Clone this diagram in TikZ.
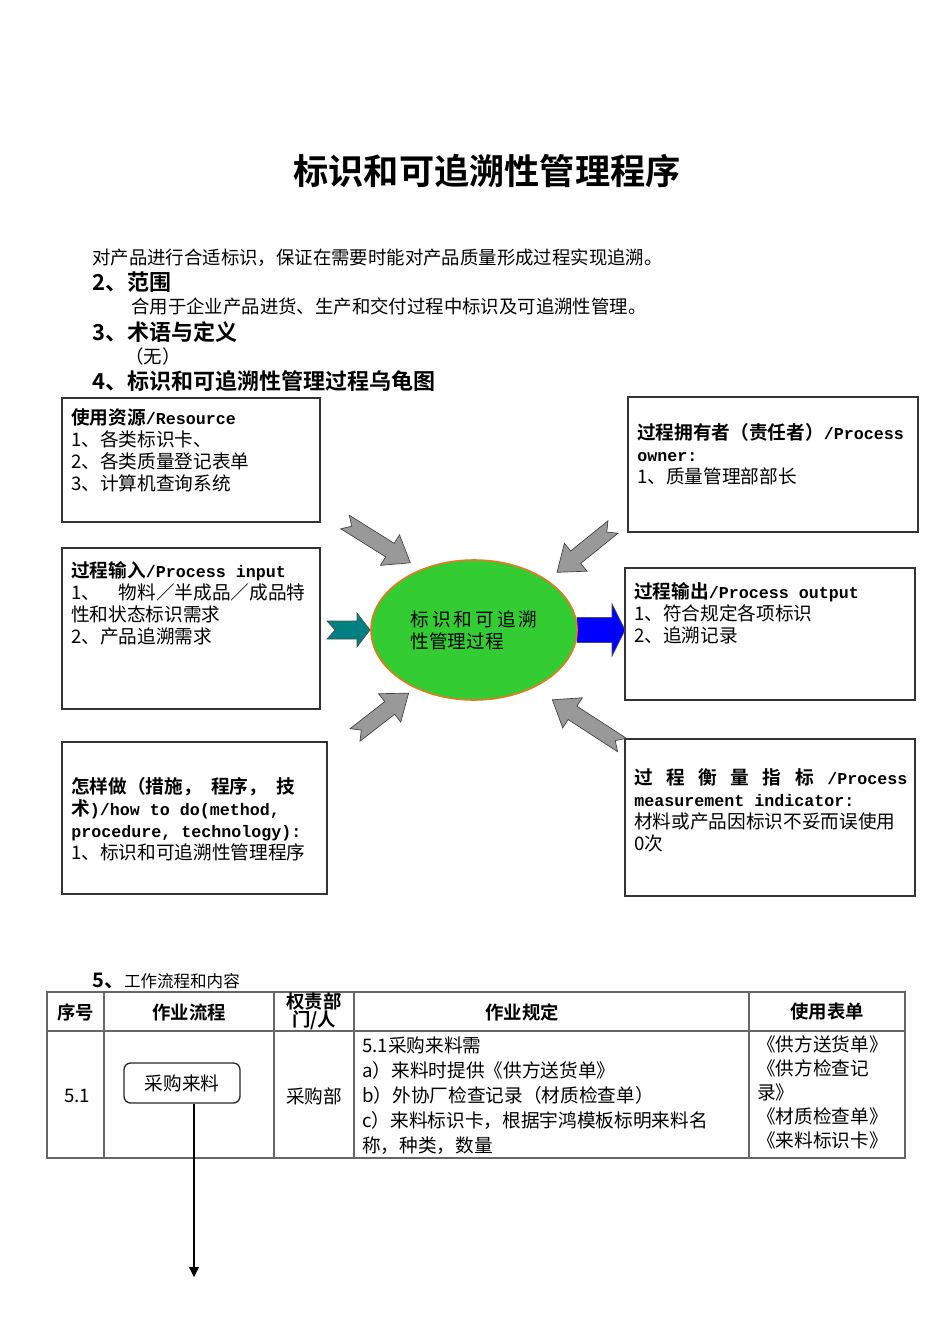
\documentclass[tikz,border=0pt]{standalone}
\usepackage{fontspec}
\setmainfont{Noto Sans CJK SC}[BoldFont={Noto Sans CJK SC Bold}]
\setmonofont{Liberation Mono}
\usepackage{tikz}
\usetikzlibrary{arrows.meta,positioning,shapes.geometric}
\definecolor{ovalgreen}{HTML}{33CC33}
\definecolor{ovalrim}{HTML}{E8781E}
\definecolor{inteal}{HTML}{008080}
\definecolor{outblue}{HTML}{0000FF}
\definecolor{sidegray}{HTML}{999999}
\newcommand{\enmono}[1]{{\ttfamily\bfseries\fontsize{12.5}{16.5}\selectfont #1}}

\begin{document}
\begin{tikzpicture}[x=0.75pt,y=-0.75pt,
    box/.style={draw=black!80,line width=1.1pt},
    boxtext/.style={anchor=north west,inner sep=0pt,align=left,
      font=\fontsize{14}{16.5}\selectfont},
    heading/.style={anchor=base west,inner sep=0pt,
      font=\bfseries\fontsize{16.5}{18}\selectfont},
    plain/.style={anchor=base west,inner sep=0pt,
      font=\fontsize{13.8}{16}\selectfont},
    grid/.style={draw=black!60,line width=1.1pt},
    cellhead/.style={inner sep=0pt,align=center,
      font=\bfseries\fontsize{13.8}{13.5}\selectfont},
    cell/.style={inner sep=0pt,font=\fontsize{14}{16}\selectfont},
  ]
    \useasboundingbox (0,0) rectangle (950,1344);

    % title and sections
    \node[anchor=base,inner sep=0pt,font=\bfseries\fontsize{26.4}{30}\selectfont]
      (title) at (487,185) {标识和可追溯性管理程序};
    \node[plain] (aim) at (92,265) {对产品进行合适标识，保证在需要时能对产品质量形成过程实现追溯。};
    \node[heading] (sec2) at (92,291) {2、范围};
    \node[plain] (scope) at (131,314) {合用于企业产品进货、生产和交付过程中标识及可追溯性管理。};
    \node[heading] (sec3) at (92,340) {3、术语与定义};
    \node[plain] (none) at (125,363) {（无）};
    \node[heading] (sec4) at (92,389) {4、标识和可追溯性管理过程乌龟图};

    % turtle boxes
    \draw[box] (62,398) rectangle (320,522);
    \node[boxtext] (res) at (71,408.5)
      {{\bfseries 使用资源}\enmono{/Resource}\\1、各类标识卡、\\2、各类质量登记表单\\3、计算机查询系统};
    \draw[box] (62,548) rectangle (320,709);
    \node[boxtext] (inp) at (71,561.5)
      {{\bfseries 过程输入}\enmono{/Process input}\\1、　物料／半成品／成品特\\性和状态标识需求\\2、产品追溯需求};
    \draw[box] (62,742) rectangle (327,894);
    \node[boxtext] (how) at (71,777.5)
      {\makebox[168pt][s]{\bfseries 怎样做（措施， 程序， 技}\\
       {\bfseries 术}\enmono{)/how to do(method,}\\
       \enmono{procedure, technology):}\\1、标识和可追溯性管理程序};
    \draw[box] (628,397) rectangle (918,532);
    \node[boxtext] (own) at (637,423.5)
      {{\bfseries 过程拥有者（责任者）}\enmono{/Process}\\\enmono{owner:}\\1、质量管理部部长};
    \draw[box] (625,568) rectangle (915,700);
    \node[boxtext] (outp) at (634,582.5)
      {{\bfseries 过程输出}\enmono{/Process output}\\1、符合规定各项标识\\2、追溯记录};
    \draw[box] (625,739) rectangle (915,896);
    \node[boxtext] (meas) at (634,768.5)
      {\makebox[204.75pt][s]{\bfseries 过 程 衡 量 指 标 \enmono{/Process}}\\
       \enmono{measurement indicator:}\\材料或产品因标识不妥而误使用\\0次};

    % block arrows round the oval
    \draw[draw=black!70,line width=0.5pt,fill=outblue]
      (577,617.5) -- (612,617.5) -- (612,604) -- (625,630) -- (612,656) -- (612,642.5) -- (577,642.5) -- cycle;
    \node[ellipse,draw=ovalrim,line width=1.2pt,fill=ovalgreen,
      minimum width=154.5pt,minimum height=105pt,align=left,
      font=\fontsize{14}{16.5}\selectfont] (core) at (474,630)
      {\makebox[95.25pt][s]{标 识 和 可 追 溯}\\性管理过程};
    \draw[draw=black!70,line width=0.5pt,fill=inteal]
      (327,621) -- (357,621) -- (357,613) -- (370,630) -- (357,647) -- (357,639) -- (327,639) -- (335,630) -- cycle;
    \foreach \tx/\ty/\ang/\len in {345/522/-32/77, 613/527/-141/72,
                                   355/735/38/68, 622/745/147/83} {
      \begin{scope}[shift={(\tx,\ty)},rotate=\ang]
        \draw[draw=black!75,line width=0.5pt,fill=sidegray]
          (0,-8) -- (\len-24,-8) -- (\len-24,-18) -- (\len,0) -- (\len-24,18)
          -- (\len-24,8) -- (0,8) -- (8,0) -- cycle;
      \end{scope}
    }

    % work flow table
    \node[anchor=base west,inner sep=0pt] (sec5) at (92,987)
      {{\bfseries\fontsize{15}{18}\selectfont 5、}{\fontsize{12.4}{15}\selectfont 工作流程和内容}};
    \draw[grid] (47,992) rectangle (905,1158);
    \draw[grid] (47,1031) -- (905,1031);
    \foreach \x in {104,274,354,749}
      \draw[grid] (\x,992) -- (\x,1158);
    \node[cellhead] (hno) at (75.5,1012) {序号};
    \node[cellhead] (hflow) at (189,1012) {作业流程};
    \node[cellhead] (hdept) at (314,1011) {权责部\\门/人};
    \node[cellhead] (hrule) at (522,1012) {作业规定};
    \node[cellhead] (hform) at (827,1012) {使用表单};
    \node[cell] (no) at (77,1096) {5.1};
    \node[draw=black!85,line width=1pt,rounded corners=5pt,minimum width=87pt,
      minimum height=30pt,inner sep=0pt,font=\fontsize{14}{16}\selectfont]
      (flow) at (182,1083) {采购来料};
    \node[cell] (dept) at (314,1096) {采购部};
    \node[cell,anchor=north west,align=left,font=\fontsize{14}{18.75}\selectfont]
      (rule) at (362,1036.5)
      {5.1采购来料需\\a）来料时提供《供方送货单》\\b）外协厂检查记录（材质检查单）\\
       c）来料标识卡，根据宇鸿模板标明来料名\\称，种类，数量};
    \node[cell,anchor=north west,align=left,font=\fontsize{14}{18}\selectfont]
      (form) at (757,1035.5)
      {《供方送货单》\\《供方检查记\\录》\\《材质检查单》\\《来料标识卡》};
    \coordinate (flowend) at (194,1277);
    \draw[line width=1pt,-{Triangle[width=7.5pt,length=7.5pt]}]
      (flowend |- flow.south) -- (flowend);
\end{tikzpicture}
\end{document}
